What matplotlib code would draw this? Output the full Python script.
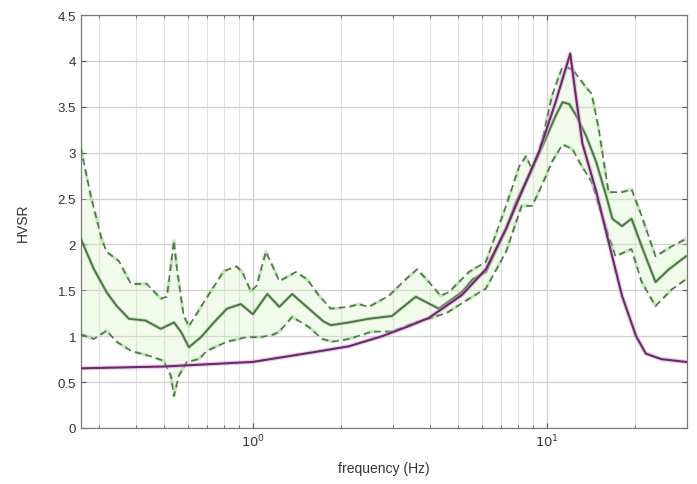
import numpy as np
import matplotlib
matplotlib.use("Agg")
import matplotlib.pyplot as plt
from matplotlib.ticker import FixedLocator, NullFormatter

plt.rcParams['font.family'] = ['Liberation Sans', 'DejaVu Sans']

# Mean HVSR curve
mean_f = [0.26, 0.288, 0.318, 0.344, 0.379, 0.432, 0.486, 0.539, 0.569, 0.606, 0.666,
          0.737, 0.816, 0.91, 1.0, 1.12, 1.23, 1.36, 1.55, 1.74, 1.84, 2.12, 2.48, 2.97,
          3.58, 4.29, 5.14, 5.6, 6.2, 7.26, 7.85, 8.7, 9.9, 10.7, 11.3, 11.9, 12.6, 13.6,
          14.7, 15.9, 16.7, 18.0, 19.4, 21.0, 23.4, 26.0, 29.7]
mean_v = [2.06, 1.73, 1.48, 1.33, 1.19, 1.17, 1.08, 1.15, 1.05, 0.88, 0.99,
          1.15, 1.30, 1.35, 1.24, 1.46, 1.32, 1.46, 1.30, 1.16, 1.12, 1.15, 1.19, 1.22,
          1.43, 1.30, 1.48, 1.62, 1.70, 2.17, 2.46, 2.75, 3.15, 3.40, 3.55, 3.53, 3.40, 3.18,
          2.90, 2.53, 2.28, 2.20, 2.28, 1.98, 1.59, 1.73, 1.87]

# Upper (mean + std) curve
up_f = [0.26, 0.281, 0.306, 0.318, 0.350, 0.385, 0.436, 0.486, 0.51, 0.539, 0.552,
        0.582, 0.606, 0.681, 0.797, 0.88, 0.92, 0.984, 1.03, 1.107, 1.18, 1.23, 1.40,
        1.53, 1.68, 1.84, 2.12, 2.29, 2.48, 2.9, 3.31, 3.62, 3.97, 4.35, 4.64, 5.43,
        6.2, 7.26, 8.05, 8.48, 8.9, 9.62, 10.4, 11.3, 12.2, 13.6, 14.2, 15.0, 16.2,
        18.0, 19.4, 21.0, 23.4, 26.6, 29.7]
up_v = [3.05, 2.53, 2.06, 1.92, 1.82, 1.57, 1.57, 1.41, 1.43, 2.04, 1.73,
        1.22, 1.11, 1.37, 1.71, 1.76, 1.70, 1.49, 1.55, 1.92, 1.73, 1.60, 1.70,
        1.62, 1.44, 1.30, 1.32, 1.35, 1.32, 1.44, 1.62, 1.73, 1.59, 1.44, 1.48, 1.70,
        1.81, 2.42, 2.85, 2.96, 2.82, 3.12, 3.62, 3.94, 3.91, 3.71, 3.64, 3.26, 2.57,
        2.57, 2.60, 2.31, 1.87, 1.98, 2.06]

# Lower (mean - std) curve
lo_f = [0.26, 0.288, 0.318, 0.344, 0.385, 0.45, 0.498, 0.526, 0.539, 0.56, 0.596,
        0.655, 0.697, 0.816, 0.954, 1.065, 1.18, 1.23, 1.36, 1.55, 1.72, 1.86, 2.12,
        2.54, 2.97, 3.58, 4.06, 4.6, 5.14, 6.2, 7.26, 8.2, 8.9, 9.6, 10.4, 11.3, 12.2,
        13.15, 14.2, 15.4, 17.1, 19.4, 21.0, 23.4, 26.6, 29.7]
lo_v = [1.02, 0.97, 1.06, 0.94, 0.84, 0.78, 0.73, 0.57, 0.35, 0.57, 0.72,
        0.75, 0.84, 0.94, 0.99, 0.99, 1.02, 1.05, 1.21, 1.10, 0.97, 0.94, 0.97,
        1.05, 1.05, 1.15, 1.20, 1.26, 1.36, 1.52, 1.92, 2.42, 2.42, 2.64, 2.90, 3.09, 3.04,
        2.85, 2.68, 2.31, 1.87, 1.95, 1.59, 1.33, 1.51, 1.62]

# Theoretical (model) curve
th_f = [0.26, 0.5, 1.0, 1.64, 2.12, 2.75, 3.39, 3.97, 4.64, 5.14, 6.2, 7.26, 8.2,
        9.4, 10.7, 12.0, 12.5, 13.2, 14.7, 16.2, 18.0, 20.1, 21.7, 24.5, 29.7]
th_v = [0.65, 0.67, 0.72, 0.83, 0.89, 1.00, 1.11, 1.20, 1.35, 1.45, 1.73, 2.17, 2.57,
        3.01, 3.55, 4.08, 3.65, 3.10, 2.58, 2.03, 1.44, 1.00, 0.81, 0.75, 0.72]

y_ticks = [0, 0.5, 1, 1.5, 2, 2.5, 3, 3.5, 4, 4.5]
y_labels = ['0', '0.5', '1', '1.5', '2', '2.5', '3', '3.5', '4', '4.5']

fig = plt.figure(figsize=(6.97, 4.85), dpi=100)
ax = fig.add_axes([0.116, 0.1155, 0.870, 0.8515])
ax.set_xscale('log')
ax.set_xlim(0.26, 30)
ax.set_ylim(0, 4.5)

# faint band between bounds
grid_f = np.geomspace(0.26, 29.7, 400)
ax.fill_between(grid_f, np.interp(np.log10(grid_f), np.log10(lo_f), lo_v),
                np.interp(np.log10(grid_f), np.log10(up_f), up_v),
                color='#d4f4c8', alpha=0.35, lw=0, zorder=1)

halo = '#86dc72'
dark = '#566f50'
for f, v, ls in [(up_f, up_v, '--'), (lo_f, lo_v, '--'), (mean_f, mean_v, '-')]:
    if ls == '--':
        ax.plot(f, v, color=halo, lw=2.4, dashes=(4, 2.5), alpha=0.5, zorder=2)
        ax.plot(f, v, color=dark, lw=1.2, dashes=(4, 2.5), zorder=3)
    else:
        ax.plot(f, v, color=halo, lw=2.6, alpha=0.5, zorder=2)
        ax.plot(f, v, color=dark, lw=1.4, zorder=3)

ax.plot(th_f, th_v, color='#e59ce5', lw=3.2, alpha=0.55, zorder=4)
ax.plot(th_f, th_v, color='#642d64', lw=1.5, zorder=5)

ax.set_yticks(y_ticks)
ax.set_yticklabels(y_labels)
ax.set_xticks([1, 10])
ax.set_xticklabels([r'$10^0$', r'$10^1$'])
minor = [0.3, 0.4, 0.5, 0.6, 0.7, 0.8, 0.9, 2, 3, 4, 5, 6, 7, 8, 9, 20, 30]
ax.xaxis.set_minor_locator(FixedLocator(minor))
ax.xaxis.set_minor_formatter(NullFormatter())

ax.grid(True, which='major', color='#cfcfcf', lw=0.9, zorder=0)
ax.grid(True, which='minor', axis='x', color='#e0e0e0', lw=0.8, zorder=0)
ax.set_axisbelow(True)

for s in ax.spines.values():
    s.set_color('#7a7a7a')
    s.set_linewidth(0.9)
ax.tick_params(which='both', direction='in', colors='#555555', labelcolor='#333333',
               labelsize=9.5, top=True, right=True)
ax.tick_params(which='minor', length=2.5)

ax.set_xlabel('frequency (Hz)', fontsize=10, color='#333333', labelpad=8)
ax.set_ylabel('HVSR', fontsize=10, color='#333333', labelpad=20)

fig.savefig('out.png', dpi=100)
